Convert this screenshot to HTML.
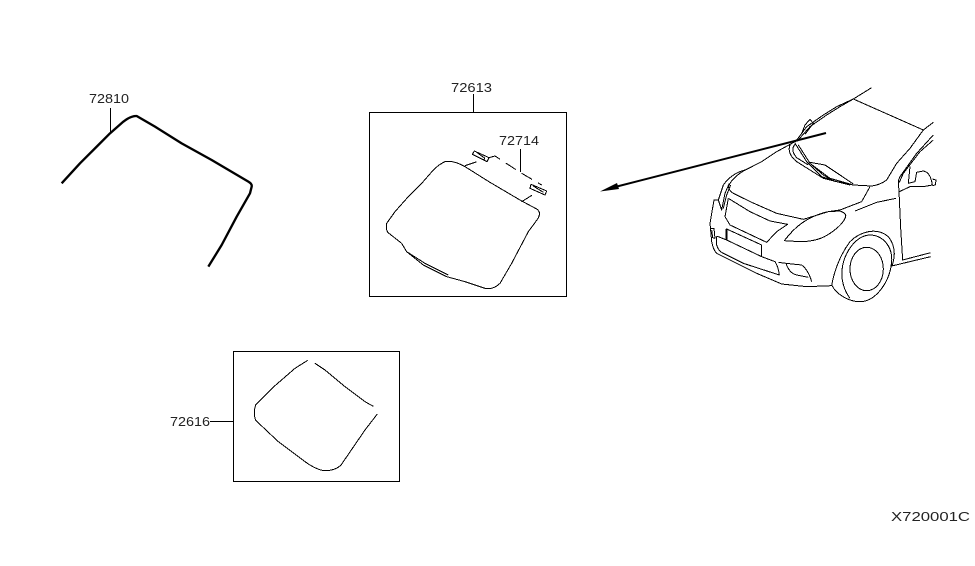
<!DOCTYPE html>
<html>
<head>
<meta charset="utf-8">
<style>
html,body{margin:0;padding:0;background:#fff;width:975px;height:566px;overflow:hidden}
svg{display:block}
.l *{fill:none;stroke:#000;stroke-width:1;vector-effect:non-scaling-stroke;stroke-linejoin:round;shape-rendering:crispEdges}
text{font-family:"Liberation Sans",sans-serif;font-size:13px;fill:#222}
</style>
</head>
<body>
<svg width="975" height="566" viewBox="0 0 975 566" xmlns="http://www.w3.org/2000/svg">
<rect width="975" height="566" fill="#fff"/>

<!-- labels -->
<text x="89" y="103" textLength="40" lengthAdjust="spacingAndGlyphs">72810</text>
<text x="451" y="92" textLength="41" lengthAdjust="spacingAndGlyphs">72613</text>
<text x="499" y="145" textLength="40" lengthAdjust="spacingAndGlyphs">72714</text>
<text x="170" y="426" textLength="40" lengthAdjust="spacingAndGlyphs">72616</text>
<text x="891" y="521" textLength="79" lengthAdjust="spacingAndGlyphs">X720001C</text>

<!-- boxes and leaders -->
<g class="l">
<rect x="369.5" y="112.5" width="197" height="184"/>
<rect x="233.5" y="351.5" width="166" height="130"/>
<path d="M473.5 94V112M210 421.5H233M110.5 108V132M520.5 149V172"/>
</g>

<!-- moulding 72810 -->
<g transform="translate(55,85) scale(.33333)">
<path fill="none" stroke="#000" stroke-width="7" stroke-linejoin="round" d="M20,295 L75,235 L130,180 L165,145 L205,110 Q228,92 245,93 L300,125 L380,175 L470,225 L580,290 Q592,297 590,305 L585,325 L545,395 L500,480 L460,545"/>
</g>

<!-- glass 72613 -->
<g class="l" transform="translate(365,75) scale(.33333)">
<path d="M300,275 Q265,255 240,260 Q222,268 205,285 L170,325 L130,365 L90,410 L65,445 Q62,462 68,472 L110,505 L125,530 L175,570 L245,605 L300,620 L360,640 Q385,645 405,625 L440,565 L490,470 L518,432 Q530,412 515,402 L470,378 L375,322 Z"/>
<polyline points="125,530 180,565 250,600"/>
<polygon points="328,228 372,248 366,260 322,238"/>
<polyline points="335,232 360,250"/>
<polygon points="498,328 545,348 540,360 495,340"/>
<polyline points="505,333 535,352"/>
<polyline stroke-dasharray="12 7" points="300,272 360,252"/>
<polyline stroke-dasharray="12 7" points="372,248 390,243 465,292 530,330"/>
<polyline stroke-dasharray="12 7" points="470,380 515,352"/>
</g>

<!-- glass 72616 -->
<g class="l" transform="translate(165,345) scale(.33333)">
<path d="M428,46 L390,70 L330,122 L272,180 Q264,205 272,226 L340,290 L420,350 Q450,372 475,377 Q520,378 535,350 L600,255 L637,207"/>
<polyline points="450,55 480,75 540,125 600,170 625,184"/>
</g>

<!-- car -->
<g class="l" transform="translate(690,85) scale(.33333)">
<polyline points="315,172 350,125 400,90 440,65 490,42 545,8"/>
<polyline points="322,168 360,125 410,90 450,65 490,42"/>
<polyline points="335,145 345,120 360,103 370,115 345,148"/>
<polyline points="490,42 700,135 730,112"/>
<path d="M700,135 L660,190 L620,235 L590,285 Q570,300 545,303 L490,300 L420,280 L360,235"/>
<polyline points="730,150 680,205 630,275 625,287"/>
<polyline points="730,165 690,200 640,265 628,292"/>
<polyline points="625,285 628,340 632,430 638,525 722,503"/>
<polyline points="605,543 722,515"/>
<path d="M660,245 L655,295 L675,290 L680,262 L700,258 Q722,262 727,300 L700,305 L660,305 L628,320"/>
<polyline points="727,282 738,285 736,300 727,302"/>
<polyline points="315,175 350,230 395,275 440,290 490,300"/>
<polyline points="325,180 360,235 400,270 430,288 480,297"/>
<polyline points="360,232 405,240 450,270 490,297"/>
<path d="M300,180 Q290,205 320,230 L400,280 L480,300"/>
<path d="M315,178 Q300,195 320,218 L355,240"/>
<path d="M315,170 L260,200 L215,230 L160,258 Q125,280 115,305 Q118,318 130,325 L185,352 L260,385 L340,403 L415,380 L450,375 L515,350 L540,305"/>
<polyline points="495,378 560,352 618,340"/>
<path d="M283,467 Q315,425 350,405 Q385,385 415,380 L450,378 Q470,385 467,395 Q460,418 420,445 Q385,470 330,470 Z"/>
<polyline points="115,340 105,395 120,420 230,472 260,440 293,418 240,408 180,380 115,340"/>
<path d="M165,255 Q125,265 100,300 L85,345 L72,345 L60,415 L65,470 Q70,495 80,505 L140,535 L200,565 L275,597 L350,605 L425,602"/>
<polyline points="118,295 105,325 95,375 85,345"/>
<polyline points="122,300 110,330 100,370"/>
<polygon points="110,432 215,480 215,515 110,465"/>
<path d="M80,455 L80,480 Q85,498 100,505 L160,535 L268,570 Q265,545 255,530 L215,515 L110,465 L85,455 Z"/>
<polyline points="62,430 72,430 75,460 68,458 65,435"/>
<path d="M265,532 L288,535 L335,540 Q355,555 365,590"/>
<path d="M288,535 Q298,565 320,570 L355,577"/>
<path d="M425,602 C432,560 450,510 480,470 C510,440 560,425 595,455 C615,480 618,510 605,545"/>
<path d="M425,600 C440,630 480,652 515,650 C560,645 600,590 605,530 C608,490 585,455 545,450 C500,448 462,500 456,555 C453,590 465,620 480,640"/>
<ellipse cx="530" cy="552" rx="50" ry="65"/>
</g>
<line x1="726.5" y1="229" x2="726.5" y2="240" stroke="#000" stroke-width="2" shape-rendering="crispEdges"/>

<!-- arrow -->
<line x1="826" y1="133" x2="615" y2="187" stroke="#000" stroke-width="2"/>
<polygon points="600,191.5 617,183 619,189" fill="#000"/>
</svg>
</body>
</html>
